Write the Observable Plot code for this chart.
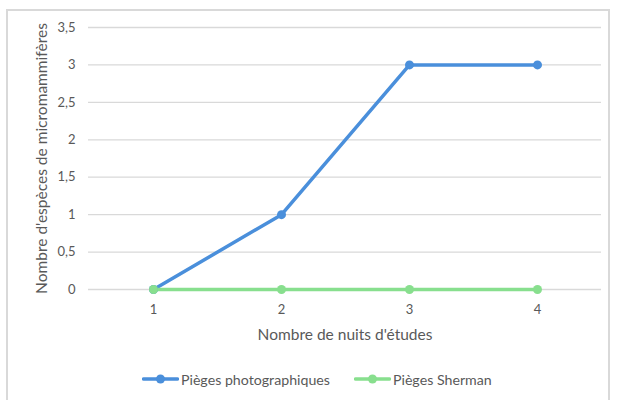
<!DOCTYPE html>
<html>
<head>
<meta charset="utf-8">
<script src="https://cdn.jsdelivr.net/npm/d3@7"></script>
<script src="https://cdn.jsdelivr.net/npm/@observablehq/plot@0.6"></script>
<style>
  html, body { margin: 0; padding: 0; background: #fff; }
  body { width: 617px; height: 400px; overflow: hidden; position: relative; font-family: Lato, "Open Sans", sans-serif; }
  #frame { position: absolute; left: 6px; top: 9px; width: 604px; height: 420px; border: 2px solid #d9d9d9; box-sizing: border-box; }
  #chart { position: absolute; left: 0; top: 0; }
  #legend { position: absolute; top: 369px; left: 0; width: 617px; height: 20px; font-size: 14.2px; color: #595959; }
  .item { position: absolute; top: 0; display: flex; align-items: center; height: 20px; }
  .item svg { margin-right: 2px; }
</style>
</head>
<body>
<div id="frame"></div>
<div id="chart"></div>
<div id="legend"></div>
<script>
const nights = [1, 2, 3, 4];
const photoValues = [0, 1, 3, 3];
const shermanValues = [0, 0, 0, 0];
const seriesNames = ["Pièges photographiques", "Pièges Sherman"];
const yTicks = [0, 0.5, 1, 1.5, 2, 2.5, 3, 3.5];
const colors = ["#4a8fdb", "#88df8e"];

const data = [
  ...nights.map((n, i) => ({night: n, value: photoValues[i], series: seriesNames[0]})),
  ...nights.map((n, i) => ({night: n, value: shermanValues[i], series: seriesNames[1]}))
];

const fmt = d => String(d).replace(".", ",");

const chart = Plot.plot({
  width: 617,
  height: 350,
  marginTop: 27,
  marginBottom: 61,
  marginLeft: 88,
  marginRight: 16,
  style: {fontFamily: "Lato, 'Open Sans', sans-serif", fontSize: "13px", color: "#595959", background: "transparent"},
  x: {type: "point", domain: nights, padding: 0.5, label: null},
  y: {domain: [0, 3.5], ticks: yTicks, label: null},
  color: {domain: seriesNames, range: colors},
  marks: [
    Plot.gridY(yTicks, {stroke: "#d9d9d9", strokeOpacity: 1, strokeWidth: 1.3}),
    Plot.axisY(yTicks, {tickSize: 0, tickPadding: 13, tickFormat: fmt, fontSize: 13, fill: "#595959"}),
    Plot.axisX(nights, {tickSize: 0, tickPadding: 15, fontSize: 13, fill: "#595959"}),
    Plot.line(data, {x: "night", y: "value", z: "series", stroke: "series", strokeWidth: 3.5, strokeLinecap: "round", strokeLinejoin: "round"}),
    Plot.dot(data, {x: "night", y: "value", fill: "series", r: 4.5}),
    Plot.text(["Nombre de nuits d'études"], {frameAnchor: "bottom", dy: 50, fontSize: 15.5, fill: "#595959"}),
    Plot.text(["Nombre d'espèces de micromammifères"], {frameAnchor: "left", textAnchor: "middle", dx: -46, rotate: -90, fontSize: 15.5, fill: "#595959"})
  ]
});
document.getElementById("chart").appendChild(chart);

// legend
const legend = document.getElementById("legend");
const positions = [142, 354];
seriesNames.forEach((name, i) => {
  const item = document.createElement("div");
  item.className = "item";
  item.style.left = positions[i] + "px";
  item.innerHTML = `<svg width="37" height="12"><line x1="1.5" y1="6" x2="35.5" y2="6" stroke="${colors[i]}" stroke-width="3.5" stroke-linecap="round"/><circle cx="18.5" cy="6" r="4.5" fill="${colors[i]}"/></svg><span>${name}</span>`;
  legend.appendChild(item);
});
</script>
</body>
</html>
